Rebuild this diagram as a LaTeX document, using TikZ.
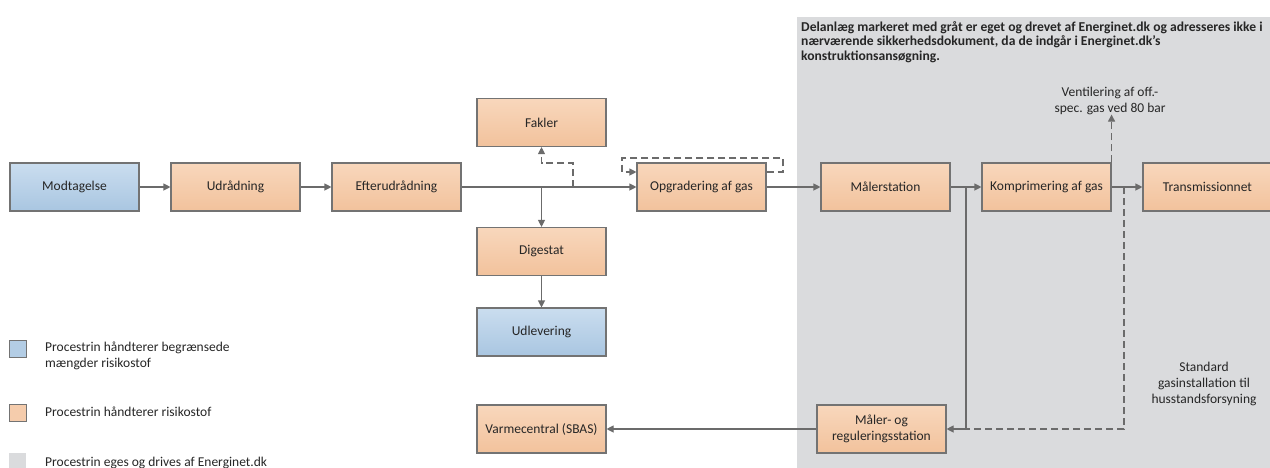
\documentclass[tikz,border=0pt]{standalone}
\usepackage{fontspec}
\setmainfont{Carlito}
\usetikzlibrary{arrows.meta,calc}
\definecolor{orT}{HTML}{F8D7BC}
\definecolor{orB}{HTML}{F2C29C}
\definecolor{blT}{HTML}{CADDEF}
\definecolor{blB}{HTML}{A9C6E1}
\definecolor{greyreg}{HTML}{DADBDD}
\definecolor{edge}{HTML}{737373}
\definecolor{conn}{HTML}{6B6B6B}
\definecolor{txt}{HTML}{262626}
\tikzset{
  box/.style={draw=edge, line width=1.1pt, minimum width=129pt, minimum height=48pt, inner sep=0pt, align=center, text=txt, font=\fontsize{13.5}{16}\selectfont},
  orbox/.style={box, top color=orT, bottom color=orB},
  blbox/.style={box, top color=blT, bottom color=blB},
  conline/.style={draw=conn, line width=1.1pt},
  arr/.style={conline, -{Triangle[length=7pt,width=7pt]}},
  dline/.style={conline, dash pattern=on 7pt off 4pt},
  darr/.style={dline, -{Triangle[length=7pt,width=7pt]}},
  lbl/.style={text=txt, font=\fontsize{13.5}{16}\selectfont, inner sep=0pt},
  legsq/.style={draw=edge, line width=0.6pt, minimum size=17pt, inner sep=0pt}
}
\begin{document}
\begin{tikzpicture}[x=1pt,y=-1pt]
\useasboundingbox (0,0) rectangle (1270,467);
\fill[greyreg] (797,17) rectangle (1275,470);
\node[lbl, anchor=north west, align=left, font=\fontsize{13.6}{14.8}\selectfont\bfseries] (note) at (801,21)
  {Delanlæg markeret med gråt er eget og drevet af Energinet.dk og adresseres ikke i\\nærværende sikkerhedsdokument, da de indgår i Energinet.dk’s\\konstruktionsansøgning.};

\node[blbox] (mod) at (74.5,187) {Modtagelse};
\node[orbox] (udr) at (235.5,187) {Udrådning};
\node[orbox] (eft) at (396.5,187) {Efterudrådning};
\node[orbox] (fak) at (541.5,122.5) {Fakler};
\node[orbox] (opg) at (701.5,187) {Opgradering af gas};
\node[orbox] (dig) at (541.5,251.5) {Digestat};
\node[blbox] (udl) at (541.5,332) {Udlevering};
\node[orbox] (mal) at (885.5,187) {Målerstation};
\node[orbox] (kom) at (1046.5,187) {Komprimering af gas};
\node[orbox] (tra) at (1207.5,187) {Transmissionnet};
\node[orbox] (mr) at (881.5,429) {Måler- og\\reguleringsstation};
\node[orbox] (var) at (541.5,429) {Varmecentral (SBAS)};

\node[lbl, align=center] (vent) at (1110,100.5) {Ventilering af off.-\\spec. gas ved 80 bar};
\node[lbl, align=center] (std) at (1204,383.5) {Standard\\gasinstallation til\\husstandsforsyning};

% connectors
\draw[arr] (mod) -- (udr);
\draw[arr] (udr) -- (eft);
\draw[arr] (eft) -- (opg);
\draw[arr] (eft.east -| dig.north) -- (dig.north);
\draw[arr] (dig) -- (udl);
\coordinate (fj) at (573,187);
\draw[darr] (fj) -- ++(0,-24) -| (fak.south);
\coordinate (lp1) at (783,172);
\coordinate (lp2) at (622,158);
\draw[darr] (opg.east |- lp1) -- (lp1) |- (lp2) |- (opg.west |- lp1);
\draw[arr] (opg) -- (mal);
\draw[arr] (mal) -- (kom);
\draw[arr] (kom) -- (tra);
\coordinate (k1) at (966,187);
\draw[arr] (k1) |- (mr.east);
\coordinate (k2) at (1124,187);
\draw[dline] (k2) |- (k1 |- mr.east);
\draw[darr] (kom.north east) -- (vent.south -| kom.east);
\draw[arr] (mr) -- (var);

% legend
\node[legsq, fill=blB!70!blT] (l1) at (17.5,349) {};
\node[lbl, anchor=west, align=left] (l1t) at (45,355.5) {Procestrin håndterer begrænsede\\mængder risikostof};
\node[legsq, fill=orT!50!orB] (l2) at (17.5,413) {};
\node[lbl, anchor=west] (l2t) at (45,412) {Procestrin håndterer risikostof};
\node[legsq, fill=greyreg, draw=none] (l3) at (17.5,461) {};
\node[lbl, anchor=west] (l3t) at (45,463) {Procestrin eges og drives af Energinet.dk};
\end{tikzpicture}
\end{document}
